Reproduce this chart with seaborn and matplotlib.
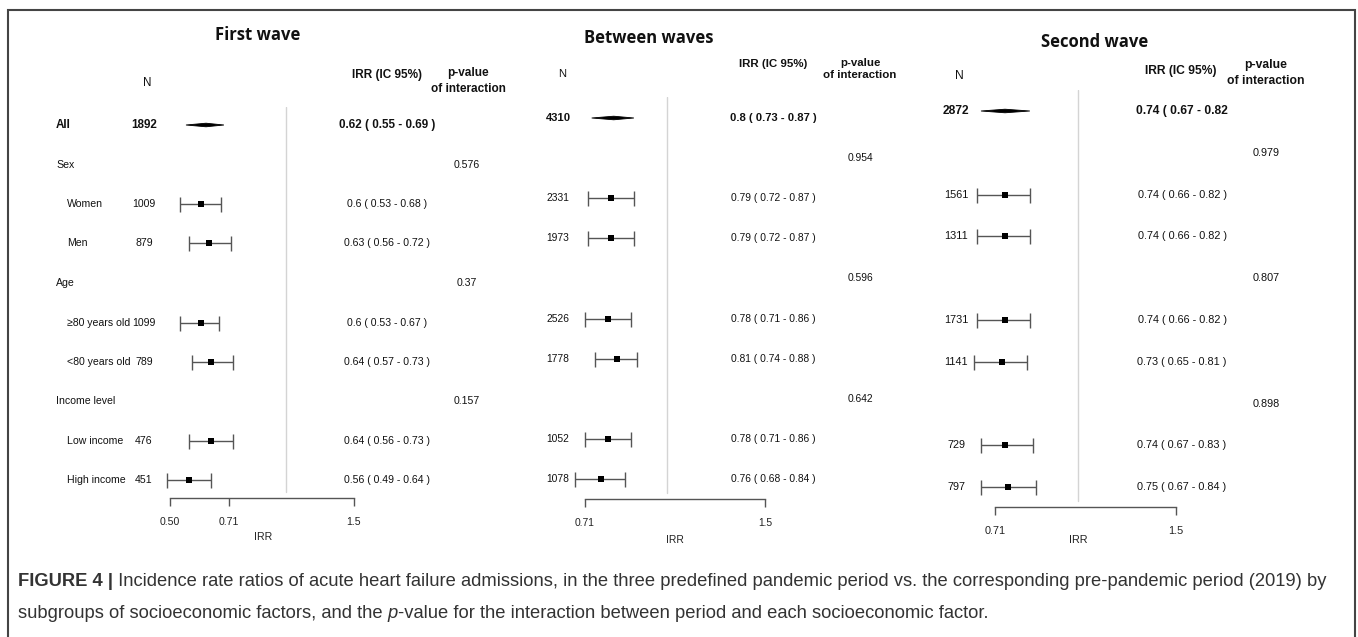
import numpy as np
import pandas as pd
import seaborn as sns
import matplotlib.pyplot as plt
from matplotlib import font_manager
from matplotlib.transforms import blended_transform_factory
from matplotlib.patches import Rectangle

# ---- data ----
row_labels = ["All", "Sex", "Women", "Men", "Age", "\u226580 years old", "<80 years old",
              "Income level", "Low income", "High income"]
group_rows = [1, 4, 7]          # Sex / Age / Income level headers

nan = np.nan
# First wave
n_first = [1892, None, 1009, 879, None, 1099, 789, None, 476, 451]
irr_first = [0.62, nan, 0.60, 0.63, nan, 0.60, 0.64, nan, 0.64, 0.56]
lo_first = [0.55, nan, 0.53, 0.56, nan, 0.53, 0.57, nan, 0.56, 0.49]
hi_first = [0.69, nan, 0.68, 0.72, nan, 0.67, 0.73, nan, 0.73, 0.64]
p_first = ["0.576", "0.37", "0.157"]

# Between waves
n_between = [4310, None, 2331, 1973, None, 2526, 1778, None, 1052, 1078]
irr_between = [0.80, nan, 0.79, 0.79, nan, 0.78, 0.81, nan, 0.78, 0.76]
lo_between = [0.73, nan, 0.72, 0.72, nan, 0.71, 0.74, nan, 0.71, 0.68]
hi_between = [0.87, nan, 0.87, 0.87, nan, 0.86, 0.88, nan, 0.86, 0.84]
p_between = ["0.954", "0.596", "0.642"]

# Second wave
n_second = [2872, None, 1561, 1311, None, 1731, 1141, None, 729, 797]
irr_second = [0.74, nan, 0.74, 0.74, nan, 0.74, 0.73, nan, 0.74, 0.75]
lo_second = [0.67, nan, 0.66, 0.66, nan, 0.66, 0.65, nan, 0.67, 0.67]
hi_second = [0.82, nan, 0.82, 0.82, nan, 0.82, 0.81, nan, 0.83, 0.84]
p_second = ["0.979", "0.807", "0.898"]

caption_1 = ("Incidence rate ratios of acute heart failure admissions, in the three predefined "
             "pandemic period vs. the corresponding pre-pandemic period (2019) by")
caption_2a = "subgroups of socioeconomic factors, and the "
caption_2b = "-value for the interaction between period and each socioeconomic factor."

# ---- layout (pixel positions in the 1358x637 picture) ----
W, H = 1358, 637
panels = [
    dict(title="First wave", data=(n_first, irr_first, lo_first, hi_first, p_first),
         title_xy=(258, 35), n_hdr=(147, 83), irr_hdr=(387, 75), p_hdr=(468, 81),
         ticks=[0.5, 0.71, 1.5], ticklabels=["0.50", "0.71", "1.5"],
         px_lo=170, px_hi=354, row0=125, step=39.5, axis_y=498, vtop=107,
         irr_lab=(263, 537), n_x=144, irr_x=387, p_x=467, scale=1.0, labels=True),
    dict(title="Between waves", data=(n_between, irr_between, lo_between, hi_between, p_between),
         title_xy=(649, 38), n_hdr=(562, 74), irr_hdr=(773, 64), p_hdr=(860, 69),
         ticks=[0.71, 1.5], ticklabels=["0.71", "1.5"],
         px_lo=585, px_hi=765, row0=118, step=40.1, axis_y=499, vtop=97,
         irr_lab=(675, 540), n_x=558, irr_x=773, p_x=860, scale=0.97, labels=False),
    dict(title="Second wave", data=(n_second, irr_second, lo_second, hi_second, p_second),
         title_xy=(1095, 42), n_hdr=(959, 76), irr_hdr=(1181, 71), p_hdr=(1266, 73),
         ticks=[0.71, 1.5], ticklabels=["0.71", "1.5"],
         px_lo=995, px_hi=1176, row0=111, step=41.8, axis_y=507, vtop=90,
         irr_lab=(1078, 540), n_x=956, irr_x=1182, p_x=1266, scale=1.03, labels=False),
]

sns.set_theme(style="white")
names = {f.name for f in font_manager.fontManager.ttflist}
if "Liberation Sans Narrow" in names:
    body_font, body_size = "Liberation Sans Narrow", 9.0
else:
    body_font, body_size = "Liberation Sans", 7.6
plt.rcParams["font.family"] = [body_font, "DejaVu Sans"]

fig = plt.figure(figsize=(W / 100, H / 100), dpi=100)
fig.patch.set_facecolor("white")


def fxy(x, y):
    return x / W, 1 - y / H


def fmt_irr(v, lo, hi):
    return f"{v:g} ( {lo:g} - {hi:g} )"


for pn in panels:
    n, irr, lo, hi, pv = pn["data"]
    sz = body_size * pn["scale"]
    df = pd.DataFrame({"row": np.arange(len(row_labels)), "irr": irr, "lo": lo, "hi": hi})

    # axes geometry so that the log scale lands where the picture has its ticks
    t_lo, t_hi = pn["ticks"][0], pn["ticks"][-1]
    k = (pn["px_hi"] - pn["px_lo"]) / np.log(t_hi / t_lo)
    xmin, xmax = 0.45, 1.6
    left = pn["px_lo"] + np.log(xmin / t_lo) * k
    right = pn["px_lo"] + np.log(xmax / t_lo) * k
    top, bottom = pn["vtop"], pn["axis_y"]
    x0, y0 = fxy(left, bottom)
    ax = fig.add_axes([x0, y0, (right - left) / W, (bottom - top) / H])
    ax.patch.set_alpha(0)
    ax.set_xscale("log")

    sub = df[(df.row > 0) & df.irr.notna()]
    ax.errorbar(sub.irr, sub.row, xerr=[sub.irr - sub.lo, sub.hi - sub.irr], fmt="none",
                ecolor="#555555", elinewidth=1, capsize=5.4, capthick=1, zorder=2)
    sns.scatterplot(data=sub, x="irr", y="row", marker="s", color="black", s=22,
                    linewidth=0, ax=ax, zorder=3, legend=False)

    # overall estimate as a flat diamond
    a = df.iloc[0]
    h = 1.8 / pn["step"]
    ax.fill([a.lo, a.irr, a.hi, a.irr], [a.row, a.row - h, a.row, a.row + h],
            color="black", lw=0.6, ec="black", zorder=3)

    ax.axvline(1, ymin=0.015, ymax=1, color="#d4d4d4", lw=1, zorder=1)

    ax.set_xlim(xmin, xmax)
    ax.set_ylim((bottom - pn["row0"]) / pn["step"], (top - pn["row0"]) / pn["step"])
    ax.set_xlabel("")
    ax.set_ylabel("")
    ax.set_yticks([])
    for s in ["top", "right", "left"]:
        ax.spines[s].set_visible(False)
    ax.spines["bottom"].set_bounds(t_lo, t_hi)
    ax.spines["bottom"].set_color("#555555")
    ax.spines["bottom"].set_linewidth(1)
    ax.xaxis.set_minor_locator(plt.NullLocator())
    ax.set_xticks(pn["ticks"])
    ax.set_xticklabels(pn["ticklabels"])
    ax.tick_params(axis="x", direction="out", length=6, width=1, color="#555555",
                   labelsize=sz, pad=8, labelcolor="#222222", bottom=True)

    tr = blended_transform_factory(fig.transFigure, ax.transData)
    for i, lab in enumerate(row_labels):
        bold = i == 0
        fs = sz * 1.1 if bold else sz
        wt = "bold" if bold else "normal"
        if pn["labels"]:
            lx = 56 if (i == 0 or i in group_rows) else 67
            ax.text(lx / W, i, lab, transform=tr, ha="left", va="center",
                    fontsize=fs, fontweight=wt, color="#111111")
        if n[i] is not None:
            ax.text(pn["n_x"] / W, i, str(n[i]), transform=tr, ha="center", va="center",
                    fontsize=fs, fontweight=wt, color="#111111")
        if not np.isnan(irr[i]):
            s = fmt_irr(irr[i], lo[i], hi[i])
            if pn["title"] == "Second wave" and i == 0:
                s = s[:-2]  # closing bracket is cut off in the source image
            ax.text(pn["irr_x"] / W, i, s, transform=tr, ha="center", va="center",
                    fontsize=fs, fontweight=wt, color="#111111")
    for r, p in zip(group_rows, pv):
        ax.text(pn["p_x"] / W, r, p, transform=tr, ha="center", va="center",
                fontsize=sz, color="#111111")

    # headers
    fig.text(*fxy(*pn["title_xy"]), pn["title"], ha="center", va="center",
             fontsize=12, fontweight="bold", family=["Open Sans", "DejaVu Sans"], color="#111111")
    fig.text(*fxy(*pn["n_hdr"]), "N", ha="center", va="center", fontsize=sz * 1.1, color="#111111")
    fig.text(*fxy(*pn["irr_hdr"]), "IRR (IC 95%)", ha="center", va="center",
             fontsize=sz * 1.12, fontweight="bold", color="#111111")
    fig.text(*fxy(*pn["p_hdr"]), "p-value\nof interaction", ha="center", va="center",
             multialignment="center", linespacing=1.35, fontsize=sz * 1.12,
             fontweight="bold", color="#111111")
    fig.text(*fxy(*pn["irr_lab"]), "IRR", ha="center", va="center", fontsize=sz, color="#222222")

# frame around the figure and caption
fig.patches.append(Rectangle((8 / W, -0.05), (1355 - 8) / W, 1.05 - 10 / H, transform=fig.transFigure,
                             fill=False, ec="#444444", lw=1.5))

# caption
rend = fig.canvas.get_renderer()
cap_font = ["Liberation Sans", "DejaVu Sans"]
cap_size = 13.2


def put_run(x_px, y_px, pieces):
    x = x_px
    for txt, kw in pieces:
        t = fig.text(x / W, 1 - y_px / H, txt, ha="left", va="center", family=cap_font,
                     fontsize=cap_size, color="#333333", **kw)
        x += t.get_window_extent(renderer=rend).width


put_run(18, 582, [("FIGURE 4 |", dict(fontweight="bold")), (" " + caption_1, {})])
put_run(18, 613, [(caption_2a, {}), ("p", dict(style="italic")), (caption_2b, {})])

fig.savefig("out.png", dpi=100, facecolor="white")
